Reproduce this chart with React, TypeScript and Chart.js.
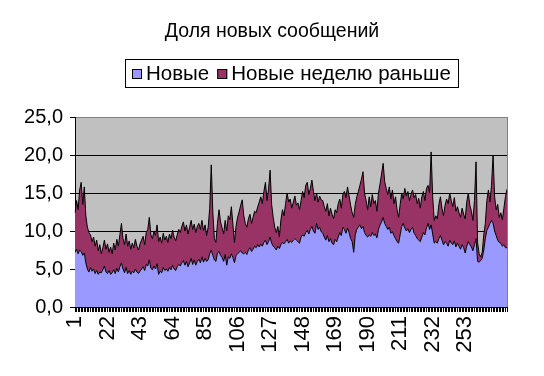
import React, { useEffect, useRef } from 'react';
import { Chart, registerables } from 'chart.js';

Chart.register(...registerables);

const chartTitle = 'Доля новых сообщений';
const seriesNames = ['Новые', 'Новые неделю раньше'];
const seriesColors = ['#9999FF', '#993366'];
const yMin = 0;
const yMax = 25;
const yStep = 5;
const xTickLabels = ['1', '22', '43', '64', '85', '106', '127', '148', '169', '190', '211', '232', '253'];

const categories: string[] = Array.from({ length: 280 }, (_, i) => String(i + 1));

// "Новые" (bottom, blue)
const novye = [
  7.2, 7.6, 7.0, 7.5, 7.3, 6.8, 7.1, 5.8, 5.0, 4.6,
  5.2, 4.7, 5.0, 4.4, 4.8, 4.3, 4.6, 4.5, 4.9, 5.4,
  4.6, 4.4, 4.8, 4.3, 4.5, 4.9, 4.4, 5.1, 4.6, 5.3,
  5.8, 5.0, 4.5, 5.2, 4.4, 4.8, 4.3, 4.7, 4.5, 5.0,
  4.6, 4.4, 4.7, 5.0, 5.3, 4.8, 5.6, 5.4, 6.2, 5.1,
  4.9, 5.4, 5.0, 5.7, 4.3, 4.7, 4.5, 5.2, 4.8, 5.0,
  4.7, 5.2, 4.9, 5.5, 5.0, 4.8, 5.3, 5.6, 5.4, 5.8,
  6.1, 5.5, 6.0, 5.3, 5.8, 6.4, 5.6, 6.2, 5.5, 6.0,
  6.3, 5.8, 6.6, 5.9, 6.4, 6.0, 6.2, 7.0, 7.5, 6.8,
  6.2, 6.0, 7.1, 7.3, 6.8, 6.5, 6.0, 6.9, 5.5, 6.6,
  6.4, 7.0, 6.5, 5.8, 6.8, 7.0, 7.2, 7.4, 7.1, 7.0,
  7.2, 6.9, 7.5, 7.8, 7.3, 7.6, 8.0, 7.8, 8.2, 7.9,
  8.3, 8.0, 8.5, 8.8, 8.2, 8.6, 9.2, 8.4, 8.0, 7.8,
  7.5, 8.0, 7.7, 8.2, 8.5, 8.3, 8.6, 8.9, 8.4, 8.7,
  8.5, 8.8, 9.0, 8.8, 8.6, 8.4, 9.2, 9.5, 9.3, 9.8,
  10.1, 9.6, 10.2, 10.6, 10.0, 9.7, 11.0, 10.2, 10.5, 9.9,
  9.7, 9.2, 8.8, 9.4, 8.6, 9.0, 8.4, 8.2, 8.9, 8.6,
  9.2, 9.8, 9.4, 10.5, 10.2, 9.7, 10.4, 9.8, 9.0, 8.6,
  7.2, 9.5, 10.2, 10.5, 10.8, 10.3, 10.6, 9.8, 9.4, 9.2,
  9.5, 9.3, 9.8, 9.4, 9.6, 9.1, 10.2, 10.8, 11.2, 11.8,
  11.0, 10.6, 10.2, 10.5, 9.7, 9.9, 9.4, 9.0, 8.6, 8.4,
  9.5, 10.6, 11.0, 10.4, 10.0, 10.3, 9.8, 10.2, 10.5, 9.7,
  9.4, 9.0, 8.8, 8.6, 9.2, 9.8, 9.5, 10.4, 11.0, 10.2,
  10.8, 9.6, 8.4, 8.6, 8.4, 9.0, 9.4, 8.8, 8.2, 8.6,
  8.4, 8.0, 8.8, 8.4, 8.2, 8.7, 7.9, 8.4, 8.0, 7.6,
  8.2, 7.8, 7.1, 8.0, 8.6, 8.2, 7.9, 7.4, 8.2, 9.0,
  6.0, 5.9, 6.1, 6.4, 7.5, 9.0, 10.1, 10.5, 11.0, 11.4,
  11.0, 10.0, 9.4, 8.8, 8.5, 8.4, 8.0, 8.2, 7.8, 7.8,
];

// "Новые неделю раньше" (stacked on top, maroon)
const novyePrev = [
  5.2, 6.4, 5.8, 7.9, 9.1, 6.7, 8.7, 6.2, 5.5, 5.2,
  4.3, 3.9, 4.2, 3.6, 4.0, 3.1, 3.6, 2.5, 2.9, 3.4,
  3.0, 3.9, 2.4, 3.6, 2.5, 3.5, 3.1, 3.8, 3.4, 4.2,
  5.2, 4.0, 3.7, 4.4, 3.6, 3.9, 3.3, 3.7, 3.3, 3.9,
  3.4, 3.1, 3.6, 3.8, 4.0, 3.4, 4.2, 4.8, 5.6, 4.4,
  4.1, 4.6, 4.4, 5.1, 4.3, 4.5, 3.9, 4.5, 4.0, 4.3,
  3.8, 4.4, 4.1, 4.6, 4.2, 3.9, 4.2, 4.6, 4.4, 4.8,
  5.1, 4.5, 4.8, 4.3, 4.7, 5.0, 4.6, 4.7, 4.3, 4.6,
  4.7, 4.4, 4.8, 4.1, 4.4, 3.4, 4.3, 6.0, 11.2, 5.7,
  2.8, 2.5, 3.9, 5.5, 4.4, 3.9, 3.6, 4.5, 4.5, 5.4,
  5.1, 6.2, 4.3, 2.7, 3.8, 4.8, 5.3, 6.0, 7.0, 5.0,
  3.8, 3.6, 4.1, 4.4, 3.7, 4.2, 4.6, 4.6, 5.0, 5.9,
  6.2, 5.6, 6.7, 7.6, 5.8, 6.9, 8.8, 5.1, 3.8, 2.7,
  2.3, 2.6, 1.5, 3.3, 4.3, 3.7, 5.0, 6.1, 5.4, 5.5,
  4.5, 5.0, 5.6, 4.6, 5.1, 4.4, 4.8, 5.7, 5.1, 6.2,
  6.3, 5.2, 5.4, 6.1, 5.2, 4.3, 4.0, 3.6, 4.1, 4.2,
  4.3, 4.0, 3.8, 4.2, 3.4, 4.0, 3.8, 3.4, 3.9, 3.8,
  4.4, 4.4, 3.6, 4.3, 5.0, 4.7, 5.4, 4.8, 4.4, 3.8,
  4.6, 4.0, 4.3, 4.7, 5.2, 6.5, 7.2, 5.2, 4.6, 3.6,
  5.0, 3.9, 5.0, 4.2, 4.4, 3.5, 4.8, 5.4, 6.3, 7.1,
  5.5, 5.0, 4.6, 5.3, 4.5, 5.5, 4.2, 5.5, 4.2, 3.4,
  4.0, 4.4, 3.2, 5.2, 4.6, 4.9, 4.2, 4.6, 4.9, 4.7,
  5.4, 4.6, 5.5, 4.4, 5.3, 5.4, 4.5, 5.2, 5.0, 4.8,
  9.6, 4.9, 3.0, 3.4, 3.2, 4.5, 5.1, 4.2, 3.8, 4.8,
  5.8, 5.6, 6.2, 5.6, 5.0, 5.7, 4.7, 4.8, 4.4, 4.2,
  4.8, 4.4, 4.5, 5.8, 6.4, 5.2, 4.7, 4.0, 5.8, 10.1,
  2.5, 1.1, 0.5, 0.8, 2.0, 2.0, 3.9, 4.9, 2.8, 4.6,
  9.0, 4.5, 3.4, 4.7, 3.3, 4.0, 3.5, 4.8, 6.7, 7.7,
];

const FONT = "'Liberation Sans', Arial, sans-serif";
const W = 544;
const H = 376;
const AREA = { left: 75, top: 117, right: 507, bottom: 307 };

const fmt = (v: number) => v.toFixed(1).replace('.', ',');

const plotBgPlugin = {
  id: 'plotBg',
  beforeDraw(chart: any) {
    const { ctx, chartArea: a } = chart;
    ctx.save();
    ctx.fillStyle = '#C0C0C0';
    ctx.fillRect(a.left, a.top, a.right - a.left, a.bottom - a.top);
    ctx.restore();
  },
  afterDatasetsDraw(chart: any) {
    const { ctx, chartArea: a } = chart;
    ctx.save();
    ctx.strokeStyle = '#808080';
    ctx.lineWidth = 1;
    ctx.beginPath();
    ctx.moveTo(Math.round(a.right) + 0.5, a.top);
    ctx.lineTo(Math.round(a.right) + 0.5, a.bottom);
    ctx.stroke();
    ctx.restore();
  },
};

const titleLegendPlugin = {
  id: 'titleLegend',
  afterDraw(chart: any) {
    const { ctx, chartArea: a } = chart;
    ctx.save();
    // title
    ctx.fillStyle = '#000';
    ctx.font = `19.5px ${FONT}`;
    ctx.textAlign = 'center';
    ctx.textBaseline = 'middle';
    ctx.fillText(chartTitle, W / 2, 32);

    // legend
    const fontSize = 20.5;
    ctx.font = `${fontSize}px ${FONT}`;
    const padX = 7, sq = 10, gap = 4, itemGap = 8;
    const widths = seriesNames.map((n) => ctx.measureText(n).width);
    const total = padX * 2 + widths.reduce((s, w) => s + sq + gap + w, 0) + itemGap * (seriesNames.length - 1);
    const cx = (a.left + a.right) / 2;
    const boxTop = 59, boxH = 28;
    const left = Math.round(cx - total / 2);
    ctx.strokeStyle = '#000';
    ctx.lineWidth = 1;
    ctx.strokeRect(left + 0.5, boxTop + 0.5, Math.round(total), boxH);
    let x = left + padX;
    const midY = boxTop + boxH / 2 + 0.5;
    seriesNames.forEach((n, i) => {
      const sy = Math.round(midY - sq / 2);
      ctx.fillStyle = seriesColors[i];
      ctx.fillRect(x, sy, sq, sq);
      ctx.strokeStyle = '#000';
      ctx.strokeRect(x + 0.5, sy + 0.5, sq - 1, sq - 1);
      x += sq + gap;
      ctx.fillStyle = '#000';
      ctx.textBaseline = 'middle';
      ctx.textAlign = 'left';
      ctx.fillText(n, x, midY + 1);
      x += widths[i] + itemGap;
    });
    ctx.restore();
  },
};

export default function App() {
  const ref = useRef<HTMLCanvasElement | null>(null);
  useEffect(() => {
    document.body.style.margin = '0';
    const canvas = ref.current!;
    const chart = new Chart(canvas, {
      type: 'line',
      data: {
        labels: categories,
        datasets: [
          {
            label: seriesNames[0],
            data: novye,
            backgroundColor: seriesColors[0],
            borderColor: '#000',
            borderWidth: 1,
            pointRadius: 0,
            tension: 0,
            fill: 'origin',
          },
          {
            label: seriesNames[1],
            data: novyePrev,
            backgroundColor: seriesColors[1],
            borderColor: '#000',
            borderWidth: 1,
            pointRadius: 0,
            tension: 0,
            fill: '-1',
          },
        ],
      },
      options: {
        animation: false,
        responsive: false,
        devicePixelRatio: 1,
        layout: { padding: { left: 0, right: W - AREA.right, top: AREA.top, bottom: 0 } },
        plugins: {
          legend: { display: false },
          tooltip: { enabled: false },
          title: { display: false },
        },
        scales: {
          x: {
            type: 'category',
            offset: false,
            border: { color: '#000', width: 1 },
            grid: { drawOnChartArea: false, drawTicks: true, tickLength: 5, color: '#000', offset: false },
            ticks: {
              autoSkip: false,
              maxRotation: 90,
              minRotation: 90,
              padding: 4,
              color: '#000',
              font: { family: FONT, size: 22 },
              callback: (_v: any, i: number) => (xTickLabels.includes(categories[i]) ? categories[i] : ''),
            },
            afterFit: (s: any) => { s.height = H - AREA.bottom; },
          },
          y: {
            stacked: true,
            min: yMin,
            max: yMax,
            border: { color: '#000', width: 1 },
            grid: {
              color: (c: any) => (c.tick && c.tick.value === yMax ? '#808080' : '#000'),
              tickColor: '#000',
              tickLength: 5,
              drawTicks: true,
            },
            ticks: {
              stepSize: yStep,
              padding: 7,
              color: '#000',
              font: { family: FONT, size: 20 },
              callback: (v: any) => fmt(Number(v)),
            },
            afterFit: (s: any) => { s.width = AREA.left; },
          },
        },
      },
      plugins: [plotBgPlugin, titleLegendPlugin],
    });
    return () => chart.destroy();
  }, []);
  return <canvas ref={ref} width={W} height={H} style={{ display: 'block', width: W, height: H }} />;
}
